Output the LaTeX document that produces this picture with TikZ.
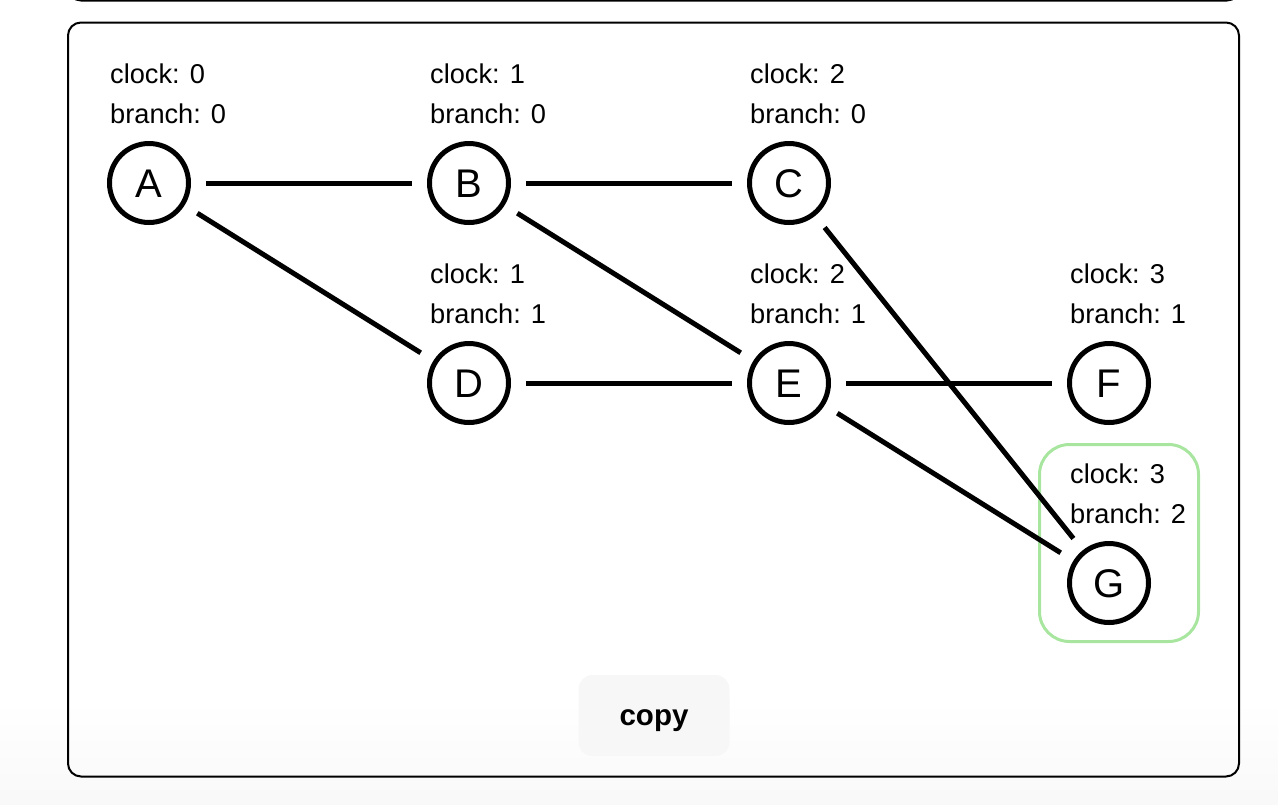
\documentclass[tikz,border=0pt]{standalone}
\usepackage{fontspec}
\setmainfont{Liberation Sans}
\definecolor{hlgreen}{HTML}{A8E6A0}
\definecolor{btnfill}{HTML}{F7F7F7}
\begin{document}
\begin{tikzpicture}[x=1pt,y=-1pt,
  vert/.style={circle, draw, line width=5pt, minimum size=79pt, inner sep=0pt,
    text height=28.6pt, text depth=0pt, font=\fontsize{40}{40}\selectfont},
  info/.style={anchor=base west, inner sep=0pt, font=\fontsize{27.2}{33}\selectfont},
  link/.style={line width=5pt, shorten <=15pt, shorten >=15pt},
  panel/.style={draw, line width=2pt, rounded corners=13pt},
]
\useasboundingbox (0,0) rectangle (1278,804);
\clip (0,0) rectangle (1278,804);

% page background fading to grey at the bottom
\shade[top color=white, bottom color=gray!5] (0,700) rectangle (1278,804);

% lower edge of the panel above, and the main panel
\draw[panel] (68,-60) rectangle (1240,0.5);
\draw[panel] (68,22.5) rectangle (1239,776.5);

% highlight around the newest commit
\node (hl) [draw=hlgreen, line width=3pt, rounded corners=30pt, minimum width=159pt,
  minimum height=197pt, inner sep=0pt] at (1119,543) {};

% commits
\node[vert] (A) at (149,183) {A};
\node[vert] (B) at (469,183) {B};
\node[vert] (C) at (789,183) {C};
\node[vert] (D) at (469,383) {D};
\node[vert] (E) at (789,383) {E};
\node[vert] (F) at (1109,383) {F};
\node[vert] (G) at (1109,583) {G};

% clock / branch labels
\node[info] (lA1) at (110,83) {clock: 0};
\node[info] (lA2) at (110,123) {branch: 0};
\node[info] (lB1) at (430,83) {clock: 1};
\node[info] (lB2) at (430,123) {branch: 0};
\node[info] (lC1) at (750,83) {clock: 2};
\node[info] (lC2) at (750,123) {branch: 0};
\node[info] (lD1) at (430,283) {clock: 1};
\node[info] (lD2) at (430,323) {branch: 1};
\node[info] (lE1) at (750,283) {clock: 2};
\node[info] (lE2) at (750,323) {branch: 1};
\node[info] (lF1) at (1070,283) {clock: 3};
\node[info] (lF2) at (1070,323) {branch: 1};
\node[info] (lG1) at (1070,483) {clock: 3};
\node[info] (lG2) at (1070,523) {branch: 2};

% edges
\draw[link] (A) -- (B);
\draw[link] (B) -- (C);
\draw[link] (A) -- (D);
\draw[link] (B) -- (E);
\draw[link] (D) -- (E);
\draw[link] (E) -- (F);
\draw[link] (C) -- (G);
\draw[link] (E) -- (G);

% copy button
\node (copy) [fill=btnfill, rounded corners=14pt, minimum width=151pt, minimum height=81pt,
  inner sep=0pt, text height=19pt, text depth=0pt,
  font=\fontsize{29.5}{30}\selectfont\bfseries] at (654,715.5) {copy};
\end{tikzpicture}
\end{document}
